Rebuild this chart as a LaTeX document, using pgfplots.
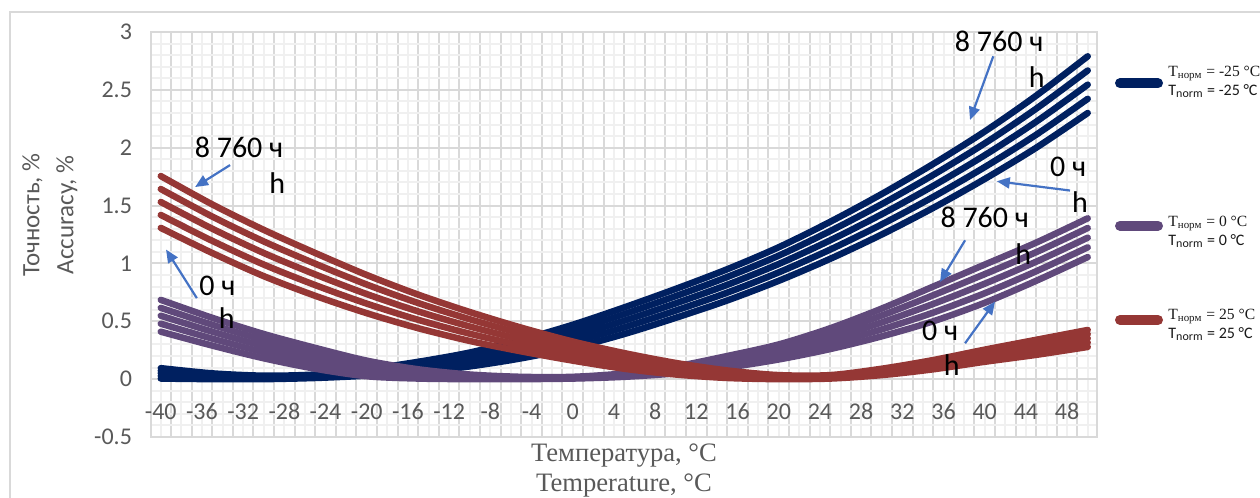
\documentclass[border=0pt]{standalone}
\usepackage{fontspec}
\setmainfont{Carlito}
\newfontfamily\seriffont{Liberation Serif}
\usepackage{pgfplots}
\pgfplotsset{compat=1.18}
\usepackage{pgfplotstable}
\usetikzlibrary{arrows.meta}

\definecolor{cBlue}{RGB}{0,32,96}
\definecolor{cPurple}{RGB}{96,73,123}
\definecolor{cRed}{RGB}{149,55,53}
\definecolor{gridMaj}{RGB}{217,217,217}
\definecolor{gridMin}{RGB}{240,240,240}
\definecolor{txtGray}{RGB}{89,89,89}
\definecolor{arrowBlue}{RGB}{68,114,196}

% T_norm = -25 C (0 h ... 8760 h)
\pgfplotstableread{
T b0 b1 b2 b3 b4
-40 0.005 0.0275 0.05 0.0725 0.095
-35 0 0.0125 0.025 0.0375 0.05
-30 0 0.0075 0.015 0.0225 0.03
-25 0.01 0.0175 0.025 0.0325 0.04
-20 0.03 0.044 0.058 0.071 0.085
-15 0.06 0.0825 0.105 0.1275 0.15
-10 0.11 0.14 0.17 0.20 0.23
-5 0.18 0.22 0.26 0.30 0.34
0 0.27 0.32 0.37 0.42 0.47
5 0.39 0.4475 0.505 0.5625 0.62
10 0.53 0.5925 0.655 0.7175 0.78
15 0.68 0.7475 0.815 0.8825 0.95
20 0.85 0.9225 0.995 1.0675 1.14
25 1.04 1.12 1.20 1.28 1.36
30 1.25 1.3375 1.425 1.5125 1.60
35 1.48 1.575 1.67 1.765 1.86
40 1.73 1.8325 1.935 2.0375 2.14
45 2.0 2.1125 2.225 2.3375 2.45
50 2.30 2.4225 2.545 2.6675 2.79
}\tblB

% T_norm = 0 C
\pgfplotstableread{
T p0 p1 p2 p3 p4
-40 0.41 0.479 0.548 0.616 0.685
-35 0.29 0.35 0.41 0.47 0.53
-30 0.18 0.2325 0.285 0.3375 0.39
-25 0.09 0.135 0.18 0.225 0.27
-20 0.025 0.059 0.0925 0.126 0.16
-15 0.005 0.025 0.045 0.065 0.085
-10 0 0.01 0.02 0.03 0.04
-5 0 0.005 0.01 0.015 0.02
0 0.005 0.009 0.0125 0.016 0.02
5 0.02 0.0275 0.035 0.0425 0.05
10 0.05 0.065 0.08 0.095 0.11
15 0.10 0.125 0.15 0.175 0.20
20 0.17 0.2025 0.235 0.2675 0.30
25 0.26 0.305 0.35 0.395 0.44
30 0.37 0.43 0.49 0.55 0.61
35 0.50 0.575 0.65 0.725 0.80
40 0.66 0.7425 0.825 0.9075 0.99
45 0.85 0.9325 1.015 1.0975 1.18
50 1.055 1.139 1.2225 1.306 1.39
}\tblP

% T_norm = 25 C
\pgfplotstableread{
T r0 r1 r2 r3 r4
-40 1.307 1.419 1.531 1.643 1.755
-35 1.09 1.195 1.30 1.405 1.51
-30 0.89 0.99 1.09 1.19 1.29
-25 0.72 0.8125 0.905 0.9975 1.09
-20 0.57 0.6525 0.735 0.8175 0.90
-15 0.44 0.5125 0.585 0.6575 0.73
-10 0.33 0.3925 0.455 0.5175 0.58
-5 0.24 0.291 0.3425 0.394 0.445
0 0.16 0.201 0.2425 0.284 0.325
5 0.09 0.124 0.1575 0.191 0.225
10 0.04 0.065 0.09 0.115 0.14
15 0.01 0.026 0.0425 0.059 0.075
20 0.0 0.009 0.0175 0.026 0.035
25 0.005 0.0125 0.02 0.0275 0.035
30 0.035 0.049 0.0625 0.076 0.09
35 0.085 0.105 0.125 0.145 0.165
40 0.15 0.176 0.2025 0.229 0.255
45 0.21 0.2425 0.275 0.3075 0.34
50 0.278 0.315 0.3515 0.388 0.425
}\tblR

\begin{document}
\begin{tikzpicture}
\path[use as bounding box] (-75.5pt,-30.5pt) rectangle (554.5pt,218.5pt);
\draw[gridMaj, line width=0.7pt] (-70.5pt,-31pt) -- (-70.5pt,212.5pt) -- (555pt,212.5pt);
\begin{axis}[
  at={(0pt,0pt)}, anchor=south west,
  width=473pt, height=202.5pt, scale only axis,
  xmin=-40.95, xmax=50.9, ymin=-0.5, ymax=3,
  clip=false,
  xtick={-39,-37,...,49},
  xticklabels={},
  minor xtick={-40,-38,...,50},
  extra x ticks={-40,-36,...,48},
  extra x tick labels={-40,-36,-32,-28,-24,-20,-16,-12,-8,-4,0,4,8,12,16,20,24,28,32,36,40,44,48},
  extra x tick style={grid=none},
  ytick={-0.5,0,0.5,1,1.5,2,2.5,3},
  yticklabels={-0.5,0,0.5,1,1.5,2,2.5,3},
  minor y tick num=4,
  grid=both,
  major grid style={gridMaj, line width=1pt},
  minor grid style={gridMin, line width=1pt},
  major tick length=0pt, minor tick length=0pt,
  axis line style={gridMaj, line width=1pt},
  tick label style={font=\fontsize{12}{14}\selectfont, text=txtGray},
  xticklabel style={anchor=center, yshift=12.65pt},
  yticklabel style={anchor=east, xshift=-6pt},
  xlabel={Температура, °C\\Temperature, °C},
  xlabel style={at={(axis description cs:0.5,-0.0815)}, anchor=center, align=center,
    font=\seriffont\fontsize{13.3}{15}\selectfont, text=txtGray},
  ylabel={Точность, \%\\Accuracy, \%},
  ylabel style={at={(axis description cs:-0.1068,0.548)}, anchor=center, align=center,
    font=\fontsize{12.5}{17}\selectfont, text=txtGray},
  every axis plot/.append style={line width=3.25pt, line cap=round, smooth, no markers},
]
\addplot[cBlue] table[x=T,y=b0]{\tblB};
\addplot[cBlue] table[x=T,y=b1]{\tblB};
\addplot[cBlue] table[x=T,y=b2]{\tblB};
\addplot[cBlue] table[x=T,y=b3]{\tblB};
\addplot[cBlue] table[x=T,y=b4]{\tblB};
\addplot[cPurple] table[x=T,y=p0]{\tblP};
\addplot[cPurple] table[x=T,y=p1]{\tblP};
\addplot[cPurple] table[x=T,y=p2]{\tblP};
\addplot[cPurple] table[x=T,y=p3]{\tblP};
\addplot[cPurple] table[x=T,y=p4]{\tblP};
\addplot[cRed] table[x=T,y=r0]{\tblR};
\addplot[cRed] table[x=T,y=r1]{\tblR};
\addplot[cRed] table[x=T,y=r2]{\tblR};
\addplot[cRed] table[x=T,y=r3]{\tblR};
\addplot[cRed] table[x=T,y=r4]{\tblR};

% annotations
\tikzset{ann/.style={font=\fontsize{15}{17}\selectfont, text=black, inner sep=0pt},
         arr/.style={arrowBlue, line width=1.1pt, -{Triangle[length=6.5pt,width=5.5pt]}}}
% red
\node[ann] at (axis cs:-32.4,2.0) {8 760 ч};
\node[ann] at (axis cs:-28.7,1.69) {h};
\draw[arr] (axis cs:-33.27,1.85) -- (axis cs:-36.67,1.66);
\node[ann] at (axis cs:-34.5,0.81) {0 ч};
\node[ann] at (axis cs:-33.6,0.53) {h};
\draw[arr] (axis cs:-36.5,0.70) -- (axis cs:-39.49,1.12);
% blue
\node[ann] at (axis cs:41.4,2.915) {8 760 ч};
\node[ann] at (axis cs:45.05,2.61) {h};
\draw[arr] (axis cs:40.83,2.79) -- (axis cs:38.57,2.24);
\node[ann] at (axis cs:48.1,1.835) {0 ч};
\node[ann] at (axis cs:49.25,1.53) {h};
\draw[arr] (axis cs:48.28,1.63) -- (axis cs:41.17,1.71);
% purple
\node[ann] at (axis cs:40.0,1.40) {8 760 ч};
\node[ann] at (axis cs:43.75,1.085) {h};
\draw[arr] (axis cs:38.09,1.20) -- (axis cs:35.66,0.84);
\node[ann] at (axis cs:35.66,0.42) {0 ч};
\node[ann] at (axis cs:36.8,0.12) {h};
\draw[arr] (axis cs:38.09,0.31) -- (axis cs:41.0,0.67);
\end{axis}

% legend
\foreach \yy/\col/\lab/\yt in {176.85/cBlue/-25/177.6, 105.65/cPurple/0/102.6, 58.5/cRed/25/56.0}{
  \draw[\col, line width=5pt, line cap=round] (484.5pt,\yy pt) -- (503.5pt,\yy pt);
  \node[anchor=west, align=left, inner sep=0pt, text=black!90,
        font=\fontsize{8}{9.8}\selectfont] at (508.5pt,\yt pt)
    {{\seriffont\fontsize{7.8}{9.8}\selectfont T\textsubscript{норм} = \lab\ °C}\\T\textsubscript{norm} = \lab\ °C};
}
\end{tikzpicture}
\end{document}
